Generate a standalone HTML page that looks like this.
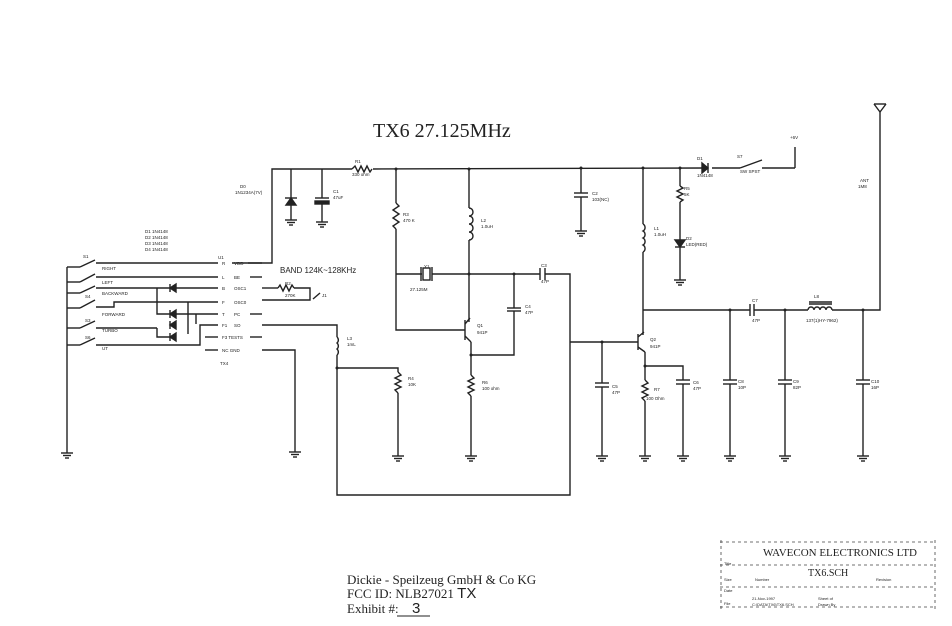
<!DOCTYPE html>
<html><head><meta charset="utf-8"><style>
html,body{margin:0;padding:0;background:#fff;}
svg{display:block}
text{font-family:"Liberation Sans",sans-serif;fill:#222;}
.s{font-family:"Liberation Serif",serif;}
</style></head><body>
<svg width="952" height="626" viewBox="0 0 952 626" xmlns="http://www.w3.org/2000/svg">
<defs>
<g id="gnd"><line x1="-6" y1="0" x2="6" y2="0"/><line x1="-4" y1="2.5" x2="4" y2="2.5"/><line x1="-2" y1="5" x2="2" y2="5"/></g>
</defs>
<g stroke="#222" stroke-width="1.4" fill="none">
<polyline points="232,263 272,263 272,169 352,169"/>
<path d="M352,169 l3,-3 l3,6 l3,-6 l3,6 l3,-6 l3,6 l2,-3"/>
<line x1="373" y1="169" x2="708" y2="168"/>
<line x1="712" y1="168" x2="740" y2="168"/>
<polygon points="702,163 702,173 708,168" fill="#222"/><line x1="708" y1="163" x2="708" y2="173"/>
<line x1="740" y1="168" x2="762" y2="160"/><line x1="762" y1="168" x2="795" y2="168"/><line x1="795" y1="168" x2="795" y2="147"/>
<line x1="291" y1="169" x2="291" y2="220"/><polygon points="286,205 296,205 291,198" fill="#222"/><line x1="285" y1="198" x2="297" y2="198"/>
<use href="#gnd" x="291" y="220"/>
<line x1="322" y1="169" x2="322" y2="198"/><line x1="315" y1="198" x2="329" y2="198"/><rect x="315" y="201" width="14" height="3" fill="#222"/><line x1="322" y1="204" x2="322" y2="222"/><use href="#gnd" x="322" y="222"/>
<line x1="396" y1="169" x2="396" y2="203"/>
<path d="M396,203 l3,3 l-6,4 l6,4 l-6,4 l6,4 l-6,4 l3,3"/>
<polyline points="396,229 396,330 465,330"/>
<line x1="396" y1="274" x2="422" y2="274"/><rect x="423" y="268" width="7" height="12"/><line x1="421" y1="267" x2="421" y2="281"/><line x1="432" y1="267" x2="432" y2="281"/>
<line x1="432" y1="274" x2="540" y2="274"/><line x1="540" y1="268" x2="540" y2="280"/><line x1="545" y1="268" x2="545" y2="280"/>
<polyline points="545,274 570,274 570,495 337,495 337,368"/>
<line x1="469" y1="169" x2="469" y2="208"/>
<path d="M469,208 a4,4 0 0 1 0,8 a4,4 0 0 1 0,8 a4,4 0 0 1 0,8 a4,4 0 0 1 0,8"/>
<line x1="469" y1="240" x2="469" y2="322"/>
<line x1="465" y1="320" x2="465" y2="340"/><line x1="465" y1="324" x2="470" y2="318"/><line x1="465" y1="336" x2="471" y2="342"/>
<line x1="471" y1="342" x2="471" y2="375"/>
<polyline points="471,355 514,355 514,311"/><line x1="507" y1="308" x2="521" y2="308"/><line x1="507" y1="311" x2="521" y2="311"/><line x1="514" y1="308" x2="514" y2="274"/>
<path d="M471,375 l3,3 l-6,3 l6,3 l-6,3 l6,3 l-6,3 l3,3"/><line x1="471" y1="396" x2="471" y2="456"/><use href="#gnd" x="471" y="456"/>
<line x1="581" y1="168" x2="581" y2="193"/><line x1="574" y1="193" x2="588" y2="193"/><line x1="574" y1="197" x2="588" y2="197"/><line x1="581" y1="197" x2="581" y2="231"/><use href="#gnd" x="581" y="231"/>
<line x1="643" y1="168" x2="643" y2="224"/>
<path d="M643,224 a4,4 0 0 1 0,7 a4,4 0 0 1 0,7 a4,4 0 0 1 0,7 a4,4 0 0 1 0,7"/>
<line x1="643" y1="252" x2="643" y2="335"/>
<line x1="570" y1="342" x2="638" y2="342"/>
<line x1="638" y1="334" x2="638" y2="350"/><line x1="638" y1="337" x2="644" y2="332"/><line x1="638" y1="347" x2="645" y2="352"/>
<line x1="645" y1="352" x2="645" y2="380"/>
<path d="M645,380 l3,3 l-6,3 l6,3 l-6,3 l6,3 l-6,3 l3,3"/><line x1="645" y1="401" x2="645" y2="456"/><use href="#gnd" x="645" y="456"/>
<polyline points="645,366 683,366 683,380"/><line x1="676" y1="380" x2="690" y2="380"/><line x1="676" y1="384" x2="690" y2="384"/><line x1="683" y1="384" x2="683" y2="456"/><use href="#gnd" x="683" y="456"/>
<line x1="602" y1="342" x2="602" y2="383"/><line x1="595" y1="383" x2="609" y2="383"/><line x1="595" y1="387" x2="609" y2="387"/><line x1="602" y1="387" x2="602" y2="456"/><use href="#gnd" x="602" y="456"/>
<line x1="680" y1="168" x2="680" y2="186"/>
<path d="M680,186 l3,2 l-6,3 l6,3 l-6,3 l6,3 l-3,2"/>
<line x1="680" y1="202" x2="680" y2="240"/><polygon points="675,240 685,240 680,247" fill="#222"/><line x1="675" y1="247" x2="685" y2="247"/>
<line x1="680" y1="247" x2="680" y2="280"/><use href="#gnd" x="680" y="280"/>
<line x1="643" y1="310" x2="750" y2="310"/><line x1="750" y1="304" x2="750" y2="316"/><line x1="754" y1="304" x2="754" y2="316"/>
<line x1="754" y1="310" x2="808" y2="310"/>
<path d="M808,310 a3,3 0 0 1 6,0 a3,3 0 0 1 6,0 a3,3 0 0 1 6,0 a3,3 0 0 1 6,0"/>
<line x1="809" y1="302" x2="832" y2="302"/><line x1="809" y1="304" x2="832" y2="304"/>
<polyline points="832,310 880,310 880,112"/>
<polyline points="874,104 880,112 886,104"/><line x1="874" y1="104" x2="886" y2="104"/>
<line x1="730" y1="310" x2="730" y2="380"/><line x1="723" y1="380" x2="737" y2="380"/><line x1="723" y1="384" x2="737" y2="384"/><line x1="730" y1="384" x2="730" y2="456"/><use href="#gnd" x="730" y="456"/>
<line x1="785" y1="310" x2="785" y2="380"/><line x1="778" y1="380" x2="792" y2="380"/><line x1="778" y1="384" x2="792" y2="384"/><line x1="785" y1="384" x2="785" y2="456"/><use href="#gnd" x="785" y="456"/>
<line x1="863" y1="310" x2="863" y2="380"/><line x1="856" y1="380" x2="870" y2="380"/><line x1="856" y1="384" x2="870" y2="384"/><line x1="863" y1="384" x2="863" y2="456"/><use href="#gnd" x="863" y="456"/>
<polyline points="262,325 337,325 337,337"/>
<path d="M337,337 a4,4 0 0 1 0,6 a4,4 0 0 1 0,6 a4,4 0 0 1 0,6"/>
<line x1="337" y1="355" x2="337" y2="368"/><polyline points="337,368 398,368 398,372"/>
<path d="M398,372 l3,3 l-6,3 l6,3 l-6,3 l6,3 l-6,3 l3,3"/><line x1="398" y1="393" x2="398" y2="456"/><use href="#gnd" x="398" y="456"/>
<polyline points="262,350 295,350 295,452"/><use href="#gnd" x="295" y="452"/>
<line x1="262" y1="288" x2="278" y2="288"/><path d="M278,288 l2,-3 l3,6 l3,-6 l3,6 l3,-6 l2,3"/><polyline points="294,288 310,288 310,300 262,300"/><line x1="313" y1="299" x2="320" y2="293"/>
<line x1="67" y1="267" x2="67" y2="453"/><use href="#gnd" x="67" y="453"/>
<line x1="67" y1="267" x2="80" y2="267"/><line x1="80" y1="267" x2="95" y2="260"/><line x1="96" y1="263" x2="218" y2="263"/>
<line x1="67" y1="282" x2="80" y2="282"/><line x1="80" y1="282" x2="95" y2="274"/><line x1="96" y1="277" x2="218" y2="277"/>
<line x1="67" y1="293" x2="80" y2="293"/><line x1="80" y1="293" x2="95" y2="286"/><line x1="96" y1="288" x2="218" y2="288"/>
<line x1="67" y1="308" x2="80" y2="308"/><line x1="80" y1="308" x2="95" y2="300"/><polyline points="96,307 114,307 114,302 218,302"/>
<line x1="67" y1="328" x2="80" y2="328"/><line x1="80" y1="328" x2="95" y2="321"/><line x1="96" y1="328" x2="157" y2="328"/>
<line x1="67" y1="345" x2="80" y2="345"/><line x1="80" y1="345" x2="95" y2="338"/><polyline points="96,345 200,345 200,325 218,325"/>
<polyline points="157,288 157,314 218,314"/><polyline points="157,328 157,337 175,337"/>
<line x1="188" y1="302" x2="188" y2="334"/><line x1="196" y1="314" x2="196" y2="324"/>
<polygon points="170,288 176,284 176,292" fill="#222"/><line x1="170" y1="284" x2="170" y2="292"/>
<polygon points="170,314 176,310 176,318" fill="#222"/><line x1="170" y1="310" x2="170" y2="318"/>
<polygon points="170,325 176,321 176,329" fill="#222"/><line x1="170" y1="321" x2="170" y2="329"/>
<polygon points="170,337 176,333 176,341" fill="#222"/><line x1="170" y1="333" x2="170" y2="341"/>
<line x1="205" y1="337" x2="218" y2="337"/><line x1="205" y1="350" x2="218" y2="350"/>
<line x1="248" y1="263" x2="262" y2="263"/><line x1="250" y1="277" x2="262" y2="277"/><line x1="250" y1="314" x2="262" y2="314"/><line x1="250" y1="337" x2="262" y2="337"/>
</g>
<g fill="#222">
<circle cx="396" cy="169" r="1.5"/><circle cx="469" cy="169" r="1.5"/><circle cx="581" cy="168" r="1.5"/><circle cx="643" cy="168" r="1.5"/><circle cx="680" cy="168" r="1.5"/>
<circle cx="469" cy="274" r="1.5"/><circle cx="514" cy="274" r="1.5"/><circle cx="471" cy="355" r="1.5"/><circle cx="602" cy="342" r="1.5"/><circle cx="645" cy="366" r="1.5"/>
<circle cx="730" cy="310" r="1.5"/><circle cx="785" cy="310" r="1.5"/><circle cx="863" cy="310" r="1.5"/><circle cx="337" cy="368" r="1.5"/>
</g>
<text class="s" x="373" y="137" font-size="20">TX6 27.125MHz</text>
<text x="280" y="273" font-size="8">BAND 124K~128KHz</text>
<g font-size="4.5">
<text x="790" y="139">+6V</text><text x="697" y="160">D1</text><text x="697" y="177">1N4148</text><text x="737" y="158">S7</text><text x="740" y="173">SW SPST</text>
<text x="860" y="182">ANT</text><text x="858" y="188">1M8</text>
<text x="403" y="216">R3</text><text x="403" y="222">470 K</text><text x="481" y="222">L2</text><text x="481" y="228">1.0uH</text>
<text x="592" y="195">C2</text><text x="592" y="201">103(NC)</text><text x="654" y="230">L1</text><text x="654" y="236">1.0uH</text>
<text x="684" y="190">R5</text><text x="684" y="196">5K</text><text x="686" y="240">D2</text><text x="686" y="246">LED(RED)</text>
<text x="424" y="268">Y1</text><text x="410" y="291">27.125M</text><text x="541" y="267">C3</text><text x="541" y="283">47P</text>
<text x="525" y="308">C4</text><text x="525" y="314">47P</text><text x="477" y="327">Q1</text><text x="477" y="334">941P</text>
<text x="650" y="341">Q2</text><text x="650" y="348">941P</text><text x="612" y="388">C5</text><text x="612" y="394">47P</text>
<text x="654" y="391">R7</text><text x="646" y="400">100 Ohm</text><text x="693" y="384">C6</text><text x="693" y="390">47P</text>
<text x="752" y="302">C7</text><text x="752" y="322">47P</text><text x="814" y="298">L8</text><text x="806" y="322">137(1)HY-7962)</text>
<text x="738" y="383">C8</text><text x="738" y="389">10P</text><text x="793" y="383">C9</text><text x="793" y="389">82P</text><text x="871" y="383">C10</text><text x="871" y="389">16P</text>
<text x="408" y="380">R4</text><text x="408" y="386">10K</text><text x="482" y="384">R6</text><text x="482" y="390">100 ohm</text>
<text x="347" y="340">L3</text><text x="347" y="346">1mL</text><text x="355" y="163">R1</text><text x="352" y="176">330 ohm</text>
<text x="240" y="188">D0</text><text x="235" y="194">1N1234A(7V)</text><text x="333" y="193">C1</text><text x="333" y="199">47uF</text>
<text x="145" y="233">D1 1N4148</text><text x="145" y="239">D2 1N4148</text><text x="145" y="245">D3 1N4148</text><text x="145" y="251">D4 1N4148</text>
<text x="83" y="258">S1</text><text x="102" y="270">RIGHT</text><text x="102" y="284">LEFT</text><text x="102" y="295">BACKWARD</text><text x="102" y="316">FORWARD</text><text x="102" y="332">TURBO</text><text x="102" y="350">UT</text>
<text x="85" y="298">S4</text><text x="85" y="322">S3</text><text x="85" y="339">S6</text>
<text x="218" y="259">U1</text><text x="220" y="365">TX4</text><text x="285" y="285">R2</text><text x="285" y="297">270K</text><text x="322" y="297">J1</text>
<text x="222" y="265">R</text><text x="222" y="279">L</text><text x="222" y="290">B</text><text x="222" y="304">F</text><text x="222" y="316">T</text><text x="222" y="327">F1</text><text x="222" y="339">F3 TESTS</text><text x="222" y="352">NC  GND</text>
<text x="234" y="265">VDD</text><text x="234" y="279">BE</text><text x="234" y="290">OSC1</text><text x="234" y="304">OSC0</text><text x="234" y="316">PC</text><text x="234" y="327">SO</text>
</g>
<text class="s" x="347" y="584" font-size="13">Dickie - Speilzeug GmbH &amp; Co KG</text>
<text class="s" x="347" y="598" font-size="13">FCC ID:  NLB27021 <tspan font-family="Liberation Sans" font-size="15">TX</tspan></text>
<text class="s" x="347" y="613" font-size="13">Exhibit #:</text>
<text x="412" y="613" font-size="15">3</text><line x1="397" y1="616" x2="430" y2="616" stroke="#222" stroke-width="1"/>
<g stroke="#444" stroke-width="0.8" stroke-dasharray="3,3" fill="none">
<line x1="720" y1="542" x2="935" y2="542"/><line x1="720" y1="565" x2="935" y2="565"/><line x1="720" y1="587" x2="935" y2="587"/><line x1="720" y1="607" x2="935" y2="607"/>
<line x1="721" y1="540" x2="721" y2="612"/><line x1="935" y1="540" x2="935" y2="612"/>
</g>
<text class="s" x="763" y="556" font-size="11">WAVECON ELECTRONICS LTD</text>
<text class="s" x="808" y="576" font-size="10">TX6.SCH</text>
<g font-size="4">
<text x="724" y="565">Title</text><text x="724" y="581">Size</text><text x="755" y="581">Number</text><text x="876" y="581">Revision</text>
<text x="724" y="592">Date</text><text x="724" y="605">File</text><text x="752" y="600">21-Nov-1997</text><text x="752" y="606">C:\DATA\TX6\TX6.SCH</text><text x="818" y="600">Sheet of</text><text x="818" y="606">Drawn By</text>
</g>
</svg>
</body></html>
